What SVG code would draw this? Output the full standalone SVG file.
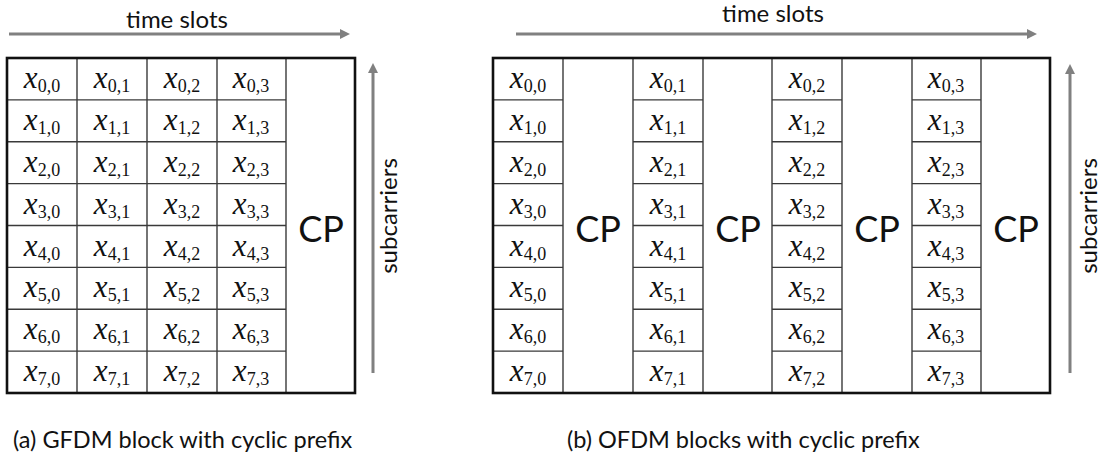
<svg xmlns="http://www.w3.org/2000/svg" width="1106" height="461" viewBox="0 0 1106 461">
  <style>
    .frame { fill: none; stroke: #111; stroke-width: 2.6; }
    .grid { stroke: #3a3a3a; stroke-width: 1.4; fill: none; }
    .axis { stroke: #808080; stroke-width: 3; fill: none; }
    .lbl { font-family: Lato, "Open Sans", sans-serif; fill: #111; }
    .cap { font-size: 23.5px; }
    .dir { font-size: 24px; text-anchor: middle; }
    .cp { font-size: 36px; text-anchor: middle; }
    .v { text-anchor: middle; fill: #111; }
    .v .x { font-family: "Liberation Serif", serif; font-style: italic; font-size: 31px; }
    .v .s { font-family: "Liberation Serif", serif; font-size: 18px; }
  </style>
  <defs>
    <marker id="ah" markerWidth="10" markerHeight="10" refX="2" refY="5" orient="auto" markerUnits="userSpaceOnUse">
      <path d="M0,0 L10,5 L0,10 z" fill="#808080"/>
    </marker>
  </defs>

  <!-- axis arrows -->
  <g id="connectors">
    <line class="axis" x1="9" y1="34" x2="342" y2="34" marker-end="url(#ah)"/>
    <line class="axis" x1="516" y1="34" x2="1029" y2="34" marker-end="url(#ah)"/>
    <line class="axis" x1="373" y1="373" x2="373" y2="71" marker-end="url(#ah)"/>
    <line class="axis" x1="1070" y1="373" x2="1070" y2="72" marker-end="url(#ah)"/>
  </g>

  <!-- axis titles -->
  <g id="axis-labels" class="lbl">
    <text class="dir" x="177" y="28">time slots</text>
    <text class="dir" x="773" y="22">time slots</text>
    <text class="dir" transform="translate(397,216) rotate(-90)">subcarriers</text>
    <text class="dir" transform="translate(1097,216) rotate(-90)">subcarriers</text>
  </g>

  <!-- GFDM block: 8 subcarriers x 4 time slots, one cyclic prefix -->
  <g id="gfdm-block">
    <g class="grid">
      <line x1="77" y1="58" x2="77" y2="393"/>
      <line x1="147" y1="58" x2="147" y2="393"/>
      <line x1="217" y1="58" x2="217" y2="393"/>
      <line x1="286" y1="58" x2="286" y2="393"/>
      <line x1="7" y1="99.9" x2="286" y2="99.9"/>
      <line x1="7" y1="141.75" x2="286" y2="141.75"/>
      <line x1="7" y1="183.6" x2="286" y2="183.6"/>
      <line x1="7" y1="225.5" x2="286" y2="225.5"/>
      <line x1="7" y1="267.4" x2="286" y2="267.4"/>
      <line x1="7" y1="309.25" x2="286" y2="309.25"/>
      <line x1="7" y1="351.1" x2="286" y2="351.1"/>
    </g>
    <rect class="frame" x="7" y="58" width="348" height="335"/>
    <text class="lbl cp" x="321" y="242">CP</text>
    <g id="gfdm-symbols">
      <text class="v" x="42" y="88"><tspan class="x">x</tspan><tspan class="s" dy="4">0,0</tspan></text>
      <text class="v" x="112" y="88"><tspan class="x">x</tspan><tspan class="s" dy="4">0,1</tspan></text>
      <text class="v" x="182" y="88"><tspan class="x">x</tspan><tspan class="s" dy="4">0,2</tspan></text>
      <text class="v" x="251" y="88"><tspan class="x">x</tspan><tspan class="s" dy="4">0,3</tspan></text>
      <text class="v" x="42" y="130"><tspan class="x">x</tspan><tspan class="s" dy="4">1,0</tspan></text>
      <text class="v" x="112" y="130"><tspan class="x">x</tspan><tspan class="s" dy="4">1,1</tspan></text>
      <text class="v" x="182" y="130"><tspan class="x">x</tspan><tspan class="s" dy="4">1,2</tspan></text>
      <text class="v" x="251" y="130"><tspan class="x">x</tspan><tspan class="s" dy="4">1,3</tspan></text>
      <text class="v" x="42" y="172"><tspan class="x">x</tspan><tspan class="s" dy="4">2,0</tspan></text>
      <text class="v" x="112" y="172"><tspan class="x">x</tspan><tspan class="s" dy="4">2,1</tspan></text>
      <text class="v" x="182" y="172"><tspan class="x">x</tspan><tspan class="s" dy="4">2,2</tspan></text>
      <text class="v" x="251" y="172"><tspan class="x">x</tspan><tspan class="s" dy="4">2,3</tspan></text>
      <text class="v" x="42" y="214"><tspan class="x">x</tspan><tspan class="s" dy="4">3,0</tspan></text>
      <text class="v" x="112" y="214"><tspan class="x">x</tspan><tspan class="s" dy="4">3,1</tspan></text>
      <text class="v" x="182" y="214"><tspan class="x">x</tspan><tspan class="s" dy="4">3,2</tspan></text>
      <text class="v" x="251" y="214"><tspan class="x">x</tspan><tspan class="s" dy="4">3,3</tspan></text>
      <text class="v" x="42" y="256"><tspan class="x">x</tspan><tspan class="s" dy="4">4,0</tspan></text>
      <text class="v" x="112" y="256"><tspan class="x">x</tspan><tspan class="s" dy="4">4,1</tspan></text>
      <text class="v" x="182" y="256"><tspan class="x">x</tspan><tspan class="s" dy="4">4,2</tspan></text>
      <text class="v" x="251" y="256"><tspan class="x">x</tspan><tspan class="s" dy="4">4,3</tspan></text>
      <text class="v" x="42" y="297"><tspan class="x">x</tspan><tspan class="s" dy="4">5,0</tspan></text>
      <text class="v" x="112" y="297"><tspan class="x">x</tspan><tspan class="s" dy="4">5,1</tspan></text>
      <text class="v" x="182" y="297"><tspan class="x">x</tspan><tspan class="s" dy="4">5,2</tspan></text>
      <text class="v" x="251" y="297"><tspan class="x">x</tspan><tspan class="s" dy="4">5,3</tspan></text>
      <text class="v" x="42" y="339"><tspan class="x">x</tspan><tspan class="s" dy="4">6,0</tspan></text>
      <text class="v" x="112" y="339"><tspan class="x">x</tspan><tspan class="s" dy="4">6,1</tspan></text>
      <text class="v" x="182" y="339"><tspan class="x">x</tspan><tspan class="s" dy="4">6,2</tspan></text>
      <text class="v" x="251" y="339"><tspan class="x">x</tspan><tspan class="s" dy="4">6,3</tspan></text>
      <text class="v" x="42" y="381"><tspan class="x">x</tspan><tspan class="s" dy="4">7,0</tspan></text>
      <text class="v" x="112" y="381"><tspan class="x">x</tspan><tspan class="s" dy="4">7,1</tspan></text>
      <text class="v" x="182" y="381"><tspan class="x">x</tspan><tspan class="s" dy="4">7,2</tspan></text>
      <text class="v" x="251" y="381"><tspan class="x">x</tspan><tspan class="s" dy="4">7,3</tspan></text>
    </g>
  </g>

  <!-- OFDM blocks: each symbol column followed by its own cyclic prefix -->
  <g id="ofdm-blocks">
    <g class="grid">
      <line x1="563" y1="58" x2="563" y2="393"/>
      <line x1="633" y1="58" x2="633" y2="393"/>
      <line x1="703" y1="58" x2="703" y2="393"/>
      <line x1="772" y1="58" x2="772" y2="393"/>
      <line x1="842" y1="58" x2="842" y2="393"/>
      <line x1="912" y1="58" x2="912" y2="393"/>
      <line x1="981" y1="58" x2="981" y2="393"/>
      <path d="M493,99.9H563M633,99.9H703M772,99.9H842M912,99.9H981
               M493,141.75H563M633,141.75H703M772,141.75H842M912,141.75H981
               M493,183.6H563M633,183.6H703M772,183.6H842M912,183.6H981
               M493,225.5H563M633,225.5H703M772,225.5H842M912,225.5H981
               M493,267.4H563M633,267.4H703M772,267.4H842M912,267.4H981
               M493,309.25H563M633,309.25H703M772,309.25H842M912,309.25H981
               M493,351.1H563M633,351.1H703M772,351.1H842M912,351.1H981"/>
    </g>
    <rect class="frame" x="493" y="58" width="557" height="335"/>
    <g class="lbl">
      <text class="cp" x="598" y="242">CP</text>
      <text class="cp" x="738" y="242">CP</text>
      <text class="cp" x="877" y="242">CP</text>
      <text class="cp" x="1016" y="242">CP</text>
    </g>
    <g id="ofdm-symbols">
      <text class="v" x="528" y="88"><tspan class="x">x</tspan><tspan class="s" dy="4">0,0</tspan></text>
      <text class="v" x="668" y="88"><tspan class="x">x</tspan><tspan class="s" dy="4">0,1</tspan></text>
      <text class="v" x="807" y="88"><tspan class="x">x</tspan><tspan class="s" dy="4">0,2</tspan></text>
      <text class="v" x="946" y="88"><tspan class="x">x</tspan><tspan class="s" dy="4">0,3</tspan></text>
      <text class="v" x="528" y="130"><tspan class="x">x</tspan><tspan class="s" dy="4">1,0</tspan></text>
      <text class="v" x="668" y="130"><tspan class="x">x</tspan><tspan class="s" dy="4">1,1</tspan></text>
      <text class="v" x="807" y="130"><tspan class="x">x</tspan><tspan class="s" dy="4">1,2</tspan></text>
      <text class="v" x="946" y="130"><tspan class="x">x</tspan><tspan class="s" dy="4">1,3</tspan></text>
      <text class="v" x="528" y="172"><tspan class="x">x</tspan><tspan class="s" dy="4">2,0</tspan></text>
      <text class="v" x="668" y="172"><tspan class="x">x</tspan><tspan class="s" dy="4">2,1</tspan></text>
      <text class="v" x="807" y="172"><tspan class="x">x</tspan><tspan class="s" dy="4">2,2</tspan></text>
      <text class="v" x="946" y="172"><tspan class="x">x</tspan><tspan class="s" dy="4">2,3</tspan></text>
      <text class="v" x="528" y="214"><tspan class="x">x</tspan><tspan class="s" dy="4">3,0</tspan></text>
      <text class="v" x="668" y="214"><tspan class="x">x</tspan><tspan class="s" dy="4">3,1</tspan></text>
      <text class="v" x="807" y="214"><tspan class="x">x</tspan><tspan class="s" dy="4">3,2</tspan></text>
      <text class="v" x="946" y="214"><tspan class="x">x</tspan><tspan class="s" dy="4">3,3</tspan></text>
      <text class="v" x="528" y="256"><tspan class="x">x</tspan><tspan class="s" dy="4">4,0</tspan></text>
      <text class="v" x="668" y="256"><tspan class="x">x</tspan><tspan class="s" dy="4">4,1</tspan></text>
      <text class="v" x="807" y="256"><tspan class="x">x</tspan><tspan class="s" dy="4">4,2</tspan></text>
      <text class="v" x="946" y="256"><tspan class="x">x</tspan><tspan class="s" dy="4">4,3</tspan></text>
      <text class="v" x="528" y="297"><tspan class="x">x</tspan><tspan class="s" dy="4">5,0</tspan></text>
      <text class="v" x="668" y="297"><tspan class="x">x</tspan><tspan class="s" dy="4">5,1</tspan></text>
      <text class="v" x="807" y="297"><tspan class="x">x</tspan><tspan class="s" dy="4">5,2</tspan></text>
      <text class="v" x="946" y="297"><tspan class="x">x</tspan><tspan class="s" dy="4">5,3</tspan></text>
      <text class="v" x="528" y="339"><tspan class="x">x</tspan><tspan class="s" dy="4">6,0</tspan></text>
      <text class="v" x="668" y="339"><tspan class="x">x</tspan><tspan class="s" dy="4">6,1</tspan></text>
      <text class="v" x="807" y="339"><tspan class="x">x</tspan><tspan class="s" dy="4">6,2</tspan></text>
      <text class="v" x="946" y="339"><tspan class="x">x</tspan><tspan class="s" dy="4">6,3</tspan></text>
      <text class="v" x="528" y="381"><tspan class="x">x</tspan><tspan class="s" dy="4">7,0</tspan></text>
      <text class="v" x="668" y="381"><tspan class="x">x</tspan><tspan class="s" dy="4">7,1</tspan></text>
      <text class="v" x="807" y="381"><tspan class="x">x</tspan><tspan class="s" dy="4">7,2</tspan></text>
      <text class="v" x="946" y="381"><tspan class="x">x</tspan><tspan class="s" dy="4">7,3</tspan></text>
    </g>
  </g>

  <!-- captions -->
  <g id="captions" class="lbl">
    <text class="cap" x="13" y="448">(a) GFDM block with cyclic prefix</text>
    <text class="cap" x="567" y="448">(b) OFDM blocks with cyclic prefix</text>
  </g>
</svg>
